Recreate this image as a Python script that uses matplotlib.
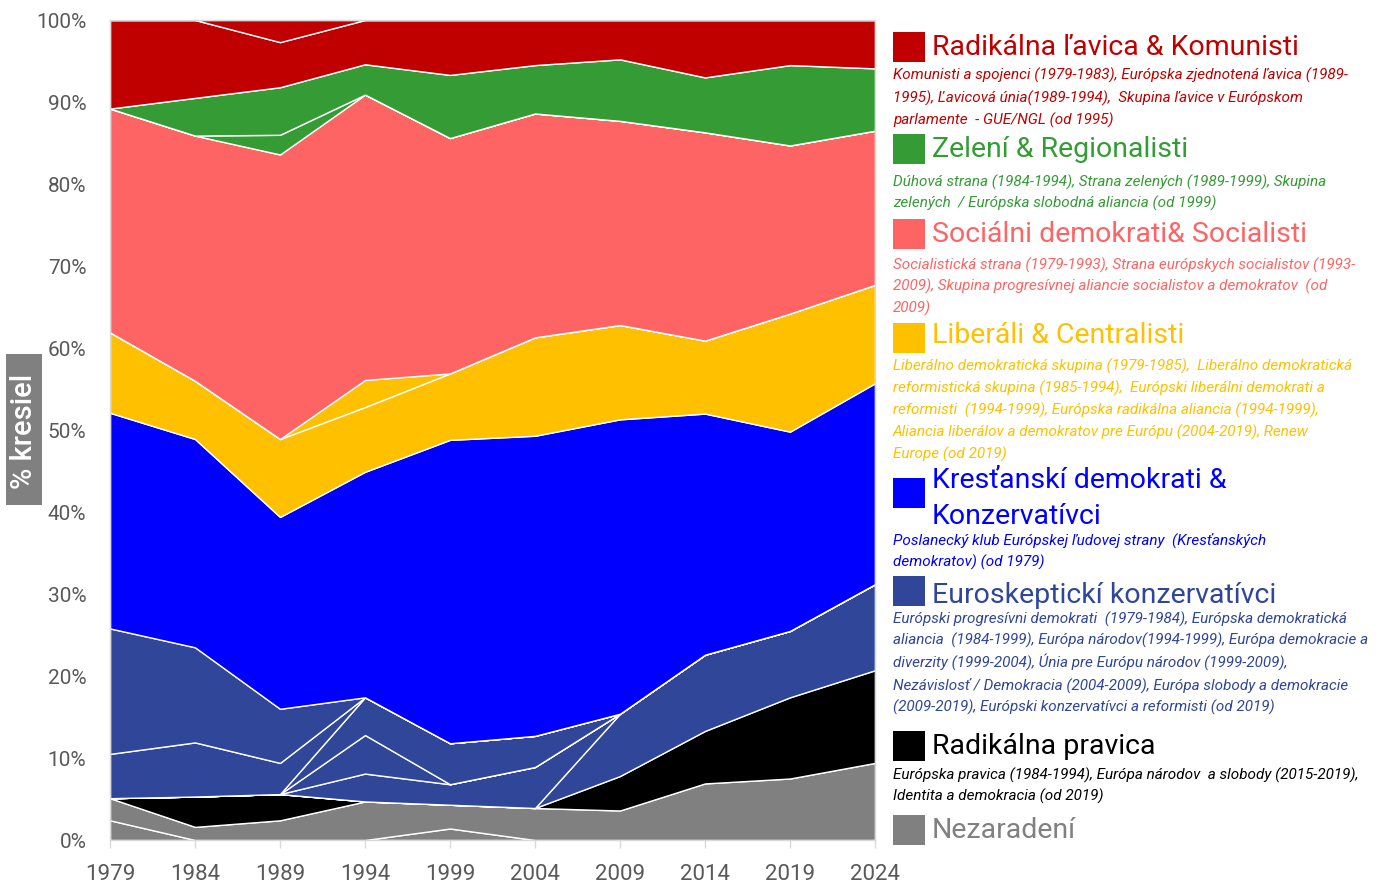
import matplotlib
matplotlib.use("Agg")
import matplotlib.pyplot as plt
from matplotlib.patches import Rectangle
import numpy as np

plt.rcParams['font.family'] = ['Roboto', 'DejaVu Sans']

years = [1979, 1984, 1989, 1994, 1999, 2004, 2009, 2014, 2019, 2024]

# sub-series, stacked bottom -> top (% of seats)
nezaradeni_1 = [2.4, 0.0, 0.0, 0.0, 1.4, 0.0, 0.0, 0.0, 0.0, 0.0]
nezaradeni_2 = [2.7, 1.6, 2.4, 4.7, 2.9, 3.9, 3.6, 6.9, 7.5, 9.4]
radikalna_pravica = [0.0, 3.7, 3.2, 0.0, 0.0, 0.0, 4.2, 6.4, 9.9, 11.3]
euro_ecr_efd = [0.0, 0.0, 0.0, 0.0, 0.0, 0.0, 7.6, 9.3, 8.1, 10.5]
euro_uen = [0.0, 0.0, 0.0, 3.4, 2.5, 5.0, 0.0, 0.0, 0.0, 0.0]
euro_narodov = [0.0, 0.0, 0.0, 4.7, 0.0, 0.0, 0.0, 0.0, 0.0, 0.0]
euro_edd = [0.0, 0.0, 0.0, 4.6, 5.0, 3.8, 0.0, 0.0, 0.0, 0.0]
euro_eda = [5.4, 6.6, 3.8, 0.0, 0.0, 0.0, 0.0, 0.0, 0.0, 0.0]
euro_epd = [15.3, 11.6, 6.6, 0.0, 0.0, 0.0, 0.0, 0.0, 0.0, 0.0]
krestanski = [26.3, 25.4, 23.4, 27.5, 37.0, 36.6, 35.9, 29.4, 24.3, 24.5]
liberali_1 = [9.8, 7.1, 9.5, 7.9, 8.1, 12.0, 11.5, 8.9, 14.4, 12.0]
liberali_2 = [0.0, 0.0, 0.0, 3.3, 0.0, 0.0, 0.0, 0.0, 0.0, 0.0]
socialisti = [27.3, 29.9, 34.7, 34.8, 28.7, 27.3, 24.9, 25.4, 20.5, 18.8]
zeleni_1 = [0.0, 0.0, 2.4, 0.0, 0.0, 0.0, 0.0, 0.0, 0.0, 0.0]
zeleni_2 = [0.0, 4.6, 5.8, 3.7, 7.7, 5.9, 7.5, 6.7, 9.8, 7.6]
lavica_1 = [10.8, 9.5, 5.5, 5.4, 6.7, 5.5, 4.8, 7.0, 5.5, 5.9]
lavica_2 = [0.0, 0.0, 2.7, 0.0, 0.0, 0.0, 0.0, 0.0, 0.0, 0.0]

c_red = '#C00000'
c_green = '#359B35'
c_pink = '#FF6464'
c_yellow = '#FFC000'
c_blue = '#0000FF'
c_dblue = '#2F4699'
c_black = '#000000'
c_gray = '#808080'

series = [nezaradeni_1, nezaradeni_2, radikalna_pravica, euro_ecr_efd, euro_uen,
          euro_narodov, euro_edd, euro_eda, euro_epd, krestanski, liberali_1,
          liberali_2, socialisti, zeleni_1, zeleni_2, lavica_1, lavica_2]
colors = [c_gray, c_gray, c_black, c_dblue, c_dblue, c_dblue, c_dblue, c_dblue,
          c_dblue, c_blue, c_yellow, c_yellow, c_pink, c_green, c_green, c_red, c_red]

W, H = 1378, 883
fig = plt.figure(figsize=(W / 100, H / 100), dpi=100)
ax = fig.add_axes([110 / W, 43 / H, 765 / W, 820 / H])

ax.stackplot(years, *series, colors=colors, edgecolor='white', linewidth=1.0)

ax.set_xlim(1979, 2024)
ax.set_ylim(0, 100)
ax.set_xticks(years)
ax.set_xticklabels([str(y) for y in years])
ax.set_yticks(np.arange(0, 101, 10))
ax.set_yticklabels([f'{v}%' for v in range(0, 101, 10)])
ax.tick_params(axis='y', length=0, pad=17, labelsize=15, labelcolor='#595959')
ax.tick_params(axis='x', length=6, width=1, color='#D9D9D9', pad=11,
               labelsize=16, labelcolor='#595959')
for s in ax.spines.values():
    s.set_color('#D9D9D9')
    s.set_linewidth(1.0)

# y-axis label in grey box
fig.patches.append(Rectangle((6 / W, 1 - 505 / H), 36 / W, 151 / H,
                             transform=fig.transFigure, facecolor='#808080',
                             edgecolor='none'))
fig.text(24 / W, 1 - 431 / H, '% kresiel', rotation=90, color='white',
         fontsize=21, fontweight='medium', ha='center', va='center')

# legend on the right
def fx(px):
    return px / W

def fy(py):
    return 1 - py / H

legend_items = [
    (c_red, 31.7, ['Radikálna ľavica & Komunisti'], [55],
     ['Komunisti a spojenci (1979-1983), Európska zjednotená ľavica (1989-',
      '1995), Ľavicová únia(1989-1994),  Skupina ľavice v Európskom',
      'parlamente  - GUE/NGL (od 1995)'], [80, 102.5, 124.5]),
    (c_green, 134.3, ['Zelení & Regionalisti'], [157.3],
     ['Dúhová strana (1984-1994), Strana zelených (1989-1999), Skupina',
      'zelených  / Európska slobodná aliancia (od 1999)'], [186.5, 208]),
    (c_pink, 219, ['Sociálni demokrati& Socialisti'], [242.3],
     ['Socialistická strana (1979-1993), Strana európskych socialistov (1993-',
      '2009), Skupina progresívnej aliancie socialistov a demokratov  (od',
      '2009)'], [269.3, 291, 312.7]),
    (c_yellow, 323.3, ['Liberáli & Centralisti'], [343.3],
     ['Liberálno demokratická skupina (1979-1985),  Liberálno demokratická',
      'reformistická skupina (1985-1994),  Európski liberálni demokrati a',
      'reformisti  (1994-1999), Európska radikálna aliancia (1994-1999),',
      'Aliancia liberálov a demokratov pre Európu (2004-2019), Renew',
      'Europe (od 2019)'], [370.7, 392.7, 415, 436.7, 458.3]),
    (c_blue, 478.3, ['Kresťanskí demokrati &', 'Konzervatívci'], [488.3, 524.3],
     ['Poslanecký klub Európskej ľudovej strany  (Kresťanských',
      'demokratov) (od 1979)'], [545, 566.7]),
    (c_dblue, 576, ['Euroskeptickí konzervatívci'], [602.7],
     ['Európski progresívni demokrati  (1979-1984), Európska demokratická',
      'aliancia  (1984-1999), Európa národov(1994-1999), Európa demokracie a',
      'diverzity (1999-2004), Únia pre Európu národov (1999-2009),',
      'Nezávislosť / Demokracia (2004-2009), Európa slobody a demokracie',
      '(2009-2019), Európski konzervatívci a reformisti (od 2019)'],
     [623.3, 645, 666.7, 689.3, 711.7]),
    (c_black, 731, ['Radikálna pravica'], [754.3],
     ['Európska pravica (1984-1994), Európa národov  a slobody (2015-2019),',
      'Identita a demokracia (od 2019)'], [780, 801]),
    (c_gray, 815, ['Nezaradení'], [838.3], [], []),
]

for color, sq_top, titles, t_base, descs, d_base in legend_items:
    fig.patches.append(Rectangle((fx(893), fy(sq_top + 30)), 32 / W, 30 / H,
                                 transform=fig.transFigure, facecolor=color,
                                 edgecolor='none'))
    for t, b in zip(titles, t_base):
        fig.text(fx(932), fy(b), t, color=color, fontsize=20.5,
                 ha='left', va='baseline')
    for d, b in zip(descs, d_base):
        fig.text(fx(893), fy(b), d, color=color, fontsize=11, style='italic',
                 ha='left', va='baseline')

fig.savefig('out.png', dpi=100)
